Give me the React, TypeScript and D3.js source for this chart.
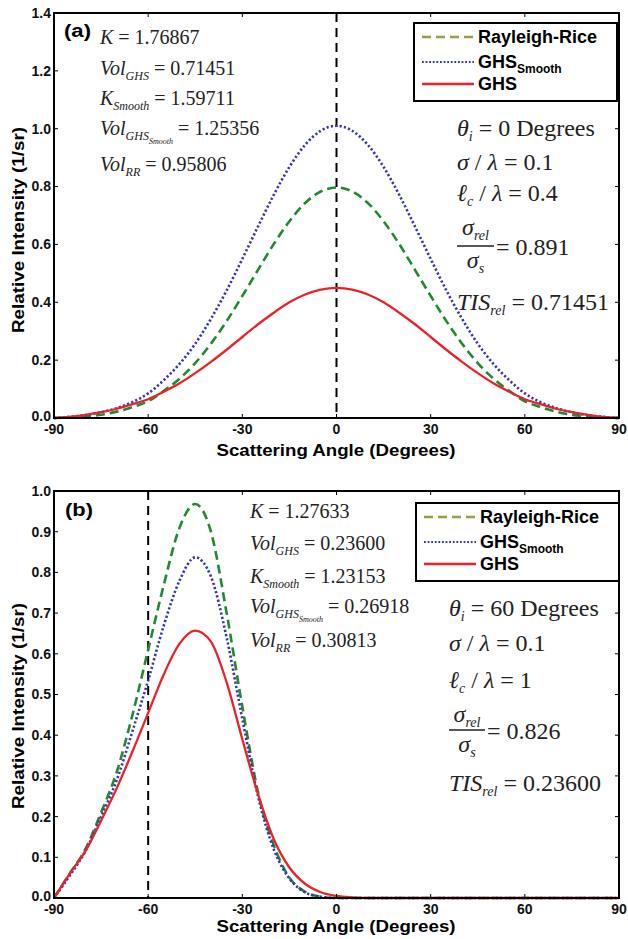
import React from 'react';
import * as d3 from 'd3';

// ---------- data ----------
const angles = [-90,-85,-80,-75,-70,-65,-60,-55,-50,-45,-40,-35,-30,-25,-20,-15,-10,-5,0,5,10,15,20,25,30,35,40,45,50,55,60,65,70,75,80,85,90];

// panel (a): theta_i = 0
const aRayleighRice = [0,0.002,0.005,0.011,0.022,0.038,0.058,0.094,0.136,0.19,0.257,0.335,0.422,0.512,0.601,0.68,0.743,0.783,0.797,0.783,0.743,0.68,0.601,0.512,0.422,0.335,0.257,0.19,0.136,0.094,0.058,0.038,0.022,0.011,0.005,0.002,0];
const aGHSSmooth = [0,0.004,0.01,0.02,0.034,0.055,0.085,0.131,0.187,0.257,0.343,0.441,0.55,0.662,0.771,0.868,0.944,0.993,1.01,0.993,0.944,0.868,0.771,0.662,0.55,0.441,0.343,0.257,0.187,0.131,0.085,0.055,0.034,0.02,0.01,0.004,0];
const aGHS = [0,0.004,0.011,0.02,0.032,0.048,0.065,0.091,0.12,0.155,0.194,0.236,0.28,0.324,0.364,0.4,0.427,0.444,0.45,0.444,0.427,0.4,0.364,0.324,0.28,0.236,0.194,0.155,0.12,0.091,0.065,0.048,0.032,0.02,0.011,0.004,0];

// panel (b): theta_i = 60
const bRayleighRice = [0,0.06,0.12,0.21,0.31,0.45,0.61,0.77,0.91,0.968,0.9,0.7,0.47,0.26,0.13,0.05,0.015,0.003,0,0,0,0,0,0,0,0,0,0,0,0,0,0,0,0,0,0,0];
const bGHSSmooth = [0,0.055,0.115,0.2,0.29,0.41,0.535,0.67,0.78,0.837,0.79,0.64,0.44,0.25,0.12,0.048,0.014,0.003,0,0,0,0,0,0,0,0,0,0,0,0,0,0,0,0,0,0,0];
const bGHS = [0,0.06,0.115,0.19,0.27,0.36,0.455,0.55,0.625,0.657,0.63,0.53,0.39,0.255,0.145,0.075,0.035,0.014,0.005,0.0015,0,0,0,0,0,0,0,0,0,0,0,0,0,0,0,0,0];

const xTicks = [-90,-60,-30,0,30,60,90];
const yTicksA = [0,0.2,0.4,0.6,0.8,1.0,1.2,1.4];
const yTicksB = [0,0.1,0.2,0.3,0.4,0.5,0.6,0.7,0.8,0.9,1.0];
const seriesNames = ['Rayleigh-Rice', 'GHS', 'GHS'];

// ---------- styles ----------
const serif = "'Liberation Serif','Times New Roman',serif";
const sans = "'Liberation Sans',Arial,Helvetica,sans-serif";
const C_RR = '#1f8a30';
const C_RR_LEG = '#9c9c40';
const C_SM = '#3636b0';
const C_GHS = '#e8232b';

const X0 = 54, X1 = 619;

type PanelProps = {
  top: number; bottom: number; yMax: number; yTicks: number[];
  rr: number[]; sm: number[]; ghs: number[]; vline: number;
};

function Panel({ top, bottom, yMax, yTicks, rr, sm, ghs, vline }: PanelProps) {
  const x = d3.scaleLinear().domain([-90, 90]).range([X0, X1]);
  const y = d3.scaleLinear().domain([0, yMax]).range([bottom, top]);
  const line = d3.line<number>()
    .x((_, i) => x(angles[i]))
    .y((d) => y(d))
    .curve(d3.curveMonotoneX);
  return (
    <g>
      <line x1={x(vline)} x2={x(vline)} y1={top} y2={bottom} stroke="#000" strokeWidth={2} strokeDasharray="9,6" />
      <path d={line(rr) || ''} fill="none" stroke={C_RR} strokeWidth={2.6} strokeDasharray="9,5" />
      <path d={line(sm) || ''} fill="none" stroke={C_SM} strokeWidth={2.6} strokeDasharray="2.2,2.2" />
      <path d={line(ghs) || ''} fill="none" stroke={C_GHS} strokeWidth={2.3} />
      {/* ticks */}
      {xTicks.slice(1, -1).map((t) => (
        <g key={'xt' + t}>
          <line x1={x(t)} x2={x(t)} y1={bottom} y2={bottom - 4} stroke="#000" strokeWidth={1} />
          <line x1={x(t)} x2={x(t)} y1={top} y2={top + 4} stroke="#000" strokeWidth={1} />
        </g>
      ))}
      {yTicks.slice(1, -1).map((t) => (
        <g key={'yt' + t}>
          <line x1={X0} x2={X0 + 4} y1={y(t)} y2={y(t)} stroke="#000" strokeWidth={1} />
          <line x1={X1} x2={X1 - 4} y1={y(t)} y2={y(t)} stroke="#000" strokeWidth={1} />
        </g>
      ))}
      <rect x={X0} y={top} width={X1 - X0} height={bottom - top} fill="none" stroke="#000" strokeWidth={2} />
      {xTicks.map((t) => (
        <text key={'xl' + t} x={x(t)} y={bottom + 16} textAnchor="middle" fontFamily={sans} fontWeight="bold" fontSize={14} fill="#111">{t}</text>
      ))}
      {yTicks.map((t) => (
        <text key={'yl' + t} x={X0 - 3} y={y(t) - (t === 0 ? 2 : 0)} dy="0.35em" textAnchor="end" fontFamily={sans} fontWeight="bold" fontSize={14} fill="#111">{d3.format('.1f')(t)}</text>
      ))}
    </g>
  );
}

function Legend({ x, y }: { x: number; y: number }) {
  const rows = [14, 39, 61];
  return (
    <g>
      <rect x={x} y={y} width={203} height={78} fill="#fff" stroke="#000" strokeWidth={2} />
      <line x1={x + 8} x2={x + 60} y1={y + rows[0]} y2={y + rows[0]} stroke={C_RR_LEG} strokeWidth={2.6} strokeDasharray="9,5" />
      <line x1={x + 8} x2={x + 60} y1={y + rows[1]} y2={y + rows[1]} stroke={C_SM} strokeWidth={2} strokeDasharray="1.8,1.8" />
      <line x1={x + 8} x2={x + 60} y1={y + rows[2]} y2={y + rows[2]} stroke={C_GHS} strokeWidth={2.3} />
      <text x={x + 64} y={y + rows[0]} dy="0.35em" fontFamily={sans} fontWeight="bold" fontSize={18}>{seriesNames[0]}</text>
      <text x={x + 64} y={y + rows[1]} dy="0.35em" fontFamily={sans} fontWeight="bold" fontSize={18}>
        <tspan>{seriesNames[1]}</tspan><tspan fontSize={12} dy={5}>Smooth</tspan>
      </text>
      <text x={x + 64} y={y + rows[2]} dy="0.35em" fontFamily={sans} fontWeight="bold" fontSize={18}>{seriesNames[2]}</text>
    </g>
  );
}

function LeftNotes({ x, ys, vals }: { x: number; ys: number[]; vals: string[] }) {
  const f = 20, s = 12;
  return (
    <g fontFamily={serif} fontSize={f} fill="#222">
      <text x={x} y={ys[0]}><tspan fontStyle="italic">K</tspan>{' = ' + vals[0]}</text>
      <text x={x} y={ys[1]}><tspan fontStyle="italic">Vol</tspan><tspan fontStyle="italic" fontSize={s} dy={5}>GHS</tspan><tspan dy={-5}>{' = ' + vals[1]}</tspan></text>
      <text x={x} y={ys[2]}><tspan fontStyle="italic">K</tspan><tspan fontStyle="italic" fontSize={s} dy={5}>Smooth</tspan><tspan dy={-5}>{' = ' + vals[2]}</tspan></text>
      <text x={x} y={ys[3]}><tspan fontStyle="italic">Vol</tspan><tspan fontStyle="italic" fontSize={s} dy={5}>GHS</tspan><tspan fontStyle="italic" fontSize={8} dy={4}>Smooth</tspan><tspan dy={-9}>{' = ' + vals[3]}</tspan></text>
      <text x={x} y={ys[4]}><tspan fontStyle="italic">Vol</tspan><tspan fontStyle="italic" fontSize={s} dy={5}>RR</tspan><tspan dy={-5}>{' = ' + vals[4]}</tspan></text>
    </g>
  );
}

function RightNotes({ x, ys, theta, lc, ratio, tis, barW }: { x: number; ys: number[]; theta: string; lc: string; ratio: string; tis: string; barW: number }) {
  const f = 24, s = 14;
  return (
    <g fontFamily={serif} fontSize={f} fill="#222">
      <text x={x} y={ys[0]}><tspan fontStyle="italic">θ</tspan><tspan fontStyle="italic" fontSize={s} dy={5}>i</tspan><tspan dy={-5}>{' = ' + theta + ' Degrees'}</tspan></text>
      <text x={x} y={ys[1]}><tspan fontStyle="italic">σ</tspan>{' / '}<tspan fontStyle="italic">λ</tspan>{' = 0.1'}</text>
      <text x={x} y={ys[2]}><tspan fontStyle="italic">ℓ</tspan><tspan fontStyle="italic" fontSize={s} dy={5}>c</tspan><tspan dy={-5}>{' / '}</tspan><tspan fontStyle="italic">λ</tspan>{' = ' + lc}</text>
      <text x={x + barW / 2} y={ys[3]} textAnchor="middle"><tspan fontStyle="italic">σ</tspan><tspan fontStyle="italic" fontSize={s} dy={5}>rel</tspan></text>
      <line x1={x} x2={x + barW} y1={ys[4]} y2={ys[4]} stroke="#222" strokeWidth={1.3} />
      <text x={x + barW / 2} y={ys[5]} textAnchor="middle"><tspan fontStyle="italic">σ</tspan><tspan fontStyle="italic" fontSize={s} dy={5}>s</tspan></text>
      <text x={x + barW + 2} y={ys[6]}>{'= ' + ratio}</text>
      <text x={x} y={ys[7]}><tspan fontStyle="italic">TIS</tspan><tspan fontStyle="italic" fontSize={s} dy={5}>rel</tspan><tspan dy={-5}>{' = ' + tis}</tspan></text>
    </g>
  );
}

export default function App() {
  return (
    <svg width={628} height={939} style={{ position: 'absolute', left: 0, top: 0, background: '#fff' }}>
      {/* Panel (a) */}
      <Panel top={13} bottom={418} yMax={1.4} yTicks={yTicksA} rr={aRayleighRice} sm={aGHSSmooth} ghs={aGHS} vline={0} />
      <text x={64} y={37} fontFamily={sans} fontWeight="bold" fontSize={18} textLength={27} lengthAdjust="spacingAndGlyphs">(a)</text>
      <LeftNotes x={100} ys={[44, 75, 105, 135, 171]} vals={['1.76867', '0.71451', '1.59711', '1.25356', '0.95806']} />
      <Legend x={414} y={23} />
      <RightNotes x={457} ys={[136, 170, 201, 235, 246, 268, 255, 310]} theta="0" lc="0.4" ratio="0.891" tis="0.71451" barW={37} />
      <text x={336} y={456} textAnchor="middle" fontFamily={sans} fontWeight="bold" fontSize={17} textLength={239} lengthAdjust="spacingAndGlyphs">Scattering Angle (Degrees)</text>
      <text transform="translate(24,230) rotate(-90)" textAnchor="middle" fontFamily={sans} fontWeight="bold" fontSize={16} textLength={206} lengthAdjust="spacingAndGlyphs">Relative Intensity (1/sr)</text>

      {/* Panel (b) */}
      <Panel top={491} bottom={898} yMax={1.0} yTicks={yTicksB} rr={bRayleighRice} sm={bGHSSmooth} ghs={bGHS} vline={-60} />
      <text x={65} y={516} fontFamily={sans} fontWeight="bold" fontSize={18} textLength={28} lengthAdjust="spacingAndGlyphs">(b)</text>
      <LeftNotes x={250} ys={[518, 550, 583, 613, 647]} vals={['1.27633', '0.23600', '1.23153', '0.26918', '0.30813']} />
      <Legend x={416} y={503} />
      <RightNotes x={449} ys={[616, 651, 688, 722, 730, 752, 739, 791]} theta="60" lc="1" ratio="0.826" tis="0.23600" barW={36} />
      <text x={336} y={932} textAnchor="middle" fontFamily={sans} fontWeight="bold" fontSize={17} textLength={239} lengthAdjust="spacingAndGlyphs">Scattering Angle (Degrees)</text>
      <text transform="translate(24,706) rotate(-90)" textAnchor="middle" fontFamily={sans} fontWeight="bold" fontSize={16} textLength={206} lengthAdjust="spacingAndGlyphs">Relative Intensity (1/sr)</text>
    </svg>
  );
}
